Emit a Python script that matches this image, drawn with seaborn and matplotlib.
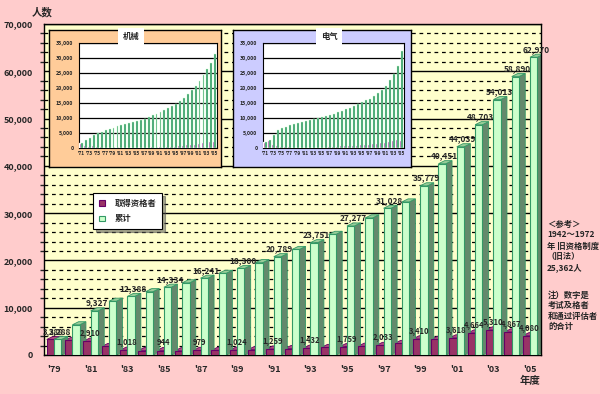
import matplotlib
matplotlib.use("Agg")
import matplotlib.pyplot as plt
import seaborn as sns
import pandas as pd
from matplotlib.patches import Polygon, Patch
from matplotlib.ticker import FuncFormatter, MultipleLocator

# ------------------------------
# data
# ------------------------------
years = list(range(1979, 2006))
year_labels = ["'%02d" % (y % 100) for y in years]
cumulative = [3288, 6390, 9327, 11370, 12388, 13390, 14334, 15262, 16241, 17276,
              18300, 19530, 20789, 22319, 23751, 25518, 27277, 28995, 31028, 32369,
              35779, 40451, 44039, 48703, 54013, 58890, 62970]
passed = [3288, 3100, 2910, 1800, 1018, 950, 944, 900, 979, 1000,
          1024, 1150, 1259, 1350, 1432, 1600, 1759, 1850, 2033, 2450,
          3410, 3300, 3618, 4664, 5310, 4867, 4080]
cum_label_years = [1979, 1981, 1983, 1985, 1987, 1989, 1991, 1993, 1995, 1997,
                   1999, 2000, 2001, 2002, 2003, 2004, 2005]
pass_label_years = [1979, 1981, 1983, 1985, 1987, 1989, 1991, 1993, 1995, 1997,
                    1999, 2001, 2002, 2003, 2004, 2005]
series_names = ["取得资格者", "累计"]

# inset panels (1971-2005)
inset_years = list(range(1971, 2006))
inset_labels = ["'%02d" % (y % 100) for y in inset_years]
inset1_title = "机械"
inset1_cum = [1800, 2700, 3300, 4200, 4900, 5500, 6000, 6400, 6800, 7200,
              7600, 7900, 8200, 8600, 9000, 9400, 9800, 10300, 10900, 11400,
              12000, 12600, 13300, 14000, 14800, 15700, 16700, 17900, 19300, 20800,
              22400, 24300, 26300, 28500, 31500]
inset1_pass = [1800, 900, 600, 900, 700, 600, 500, 400, 400, 400,
               400, 300, 300, 400, 400, 400, 400, 500, 600, 500,
               600, 600, 700, 700, 800, 900, 1000, 1200, 1400, 1500,
               1600, 1900, 2000, 2200, 2400]
inset2_title = "电气"
inset2_cum = [2000, 2600, 4200, 6000, 6600, 7100, 7600, 8000, 8300, 8600,
              8900, 9300, 9800, 10100, 10400, 10700, 11100, 11500, 12000, 12500,
              13000, 13500, 14000, 14600, 15300, 15900, 16500, 17400, 18300, 19300,
              20700, 22600, 24800, 27400, 32300]
inset2_pass = [2000, 2700, 1500, 1000, 800, 600, 600, 500, 500, 500,
               500, 500, 500, 400, 500, 500, 600, 700, 800, 900,
               900, 1000, 1000, 1100, 1200, 1300, 1400, 1600, 1800, 2000,
               2100, 2400, 2600, 3000, 2600]

note_ref = ["＜参考＞", "1942～1972", "年 旧资格制度", "（旧法）", "25,362人"]
note_text = ["注）数字是", "考试及格者", "和通过评估者", "的合计"]

# ------------------------------
# style
# ------------------------------
sns.set_style("white")
plt.rcParams['font.family'] = ['Noto Sans CJK SC', 'DejaVu Sans']
plt.rcParams['font.weight'] = 'bold'

PINK = "#FFCCCC"
WALL = "#FFFFCC"
PURPLE, PURPLE_EDGE, PURPLE_TOP = "#993366", "#660066", "#B04C80"
GREEN, GREEN_EDGE, GREEN_SIDE, GREEN_TOP = "#CCFFCC", "#339966", "#64896C", "#99CC99"

fig = plt.figure(figsize=(6.0, 3.94), dpi=100, facecolor=PINK)
ax = fig.add_axes([44 / 600, 1 - 355 / 394, 497 / 600, 331 / 394])
ax.set_facecolor(WALL)

df = pd.DataFrame({
    "year": year_labels * 2,
    "series": [series_names[0]] * len(years) + [series_names[1]] * len(years),
    "value": passed + cumulative,
})
sns.barplot(data=df, x="year", y="value", hue="series", hue_order=series_names,
            palette=[PURPLE, GREEN], width=0.8, saturation=1, legend=False,
            ax=ax, zorder=3)

# ------------------------------
# fake 3D sides / tops
# ------------------------------
dx, dy = 0.34, 650
styles = [(PURPLE_EDGE, PURPLE_TOP, PURPLE_TOP), (GREEN_EDGE, GREEN_SIDE, GREEN_TOP)]
for cont, (edge, side_c, top_c) in zip(ax.containers, styles):
    for bar in cont:
        bar.set_edgecolor(edge)
        bar.set_linewidth(0.8)
        x0, w, h = bar.get_x(), bar.get_width(), bar.get_height()
        x1 = x0 + w
        side = Polygon([(x1, 0), (x1, h), (x1 + dx, h + dy), (x1 + dx, dy)],
                       closed=True, facecolor=side_c, edgecolor=edge, lw=0.6, zorder=2)
        top = Polygon([(x0, h), (x1, h), (x1 + dx, h + dy), (x0 + dx, h + dy)],
                      closed=True, facecolor=top_c, edgecolor=edge, lw=0.6, zorder=2)
        ax.add_patch(side)
        ax.add_patch(top)

# data labels
for i, y in enumerate(years):
    pbar = ax.containers[0][i]
    gbar = ax.containers[1][i]
    if y in pass_label_years:
        ax.text(pbar.get_x() + pbar.get_width() * 0.9, passed[i] + dy + 150,
                f"{passed[i]:,}", ha="center", va="bottom", fontsize=5.5,
                fontweight="bold", zorder=5)
    if y in cum_label_years:
        ax.text(gbar.get_x() + gbar.get_width() * 0.8, cumulative[i] + dy + 100,
                f"{cumulative[i]:,}", ha="center", va="bottom", fontsize=6,
                fontweight="bold", zorder=5)

# axes, grid
ax.set_ylim(0, 70000)
ax.set_xlim(-0.55, 26.6)
ax.yaxis.set_major_locator(MultipleLocator(10000))
ax.yaxis.set_minor_locator(MultipleLocator(2000))
ax.yaxis.set_major_formatter(FuncFormatter(lambda v, p: f"{int(v):,}"))
ax.grid(axis="y", which="major", color="black", lw=1.0, zorder=0)
ax.grid(axis="y", which="minor", color="black", lw=0.9, ls=(0, (3, 3)), zorder=0)
ax.set_axisbelow(True)
ax.tick_params(axis="y", which="major", length=4, width=1, direction="out",
               labelsize=6.5, pad=4)
ax.tick_params(axis="y", which="minor", length=3, width=1, direction="out", left=True)
ax.set_xticks(range(0, len(years), 2))
ax.set_xticklabels(year_labels[::2], fontsize=6.5, fontweight="bold")
ax.tick_params(axis="x", length=0, pad=7)
for lab in ax.get_yticklabels():
    lab.set_fontweight("bold")
for s in ax.spines.values():
    s.set_color("black")
    s.set_linewidth(1.0)
ax.set_xlabel("")
ax.set_ylabel("")

fig.text(42 / 600, 1 - 12 / 394, "人数", ha="center", va="center", fontsize=7.5, fontweight="bold")
fig.text(530 / 600, 1 - 381 / 394, "年度", ha="center", va="center", fontsize=7.5, fontweight="bold")

# legend
handles = [Patch(facecolor=PURPLE, edgecolor=PURPLE_EDGE, lw=0.8),
           Patch(facecolor=GREEN, edgecolor=GREEN_EDGE, lw=0.8)]
leg = ax.legend(handles, series_names, loc="upper left",
                bbox_to_anchor=(93 / 600, 1 - 193 / 394), bbox_transform=fig.transFigure,
                frameon=True, fancybox=False, shadow=True, fontsize=6,
                handlelength=0.7, handleheight=0.7, borderpad=0.7, labelspacing=0.8,
                handletextpad=1.2, borderaxespad=0)
leg.get_frame().set_edgecolor("black")
leg.get_frame().set_linewidth(0.8)
leg.set_zorder(10)

# right side notes
for k, t in enumerate(note_ref):
    fig.text(547 / 600, 1 - (224 + 11 * k) / 394, t, ha="left", va="center",
             fontsize=6, fontweight="bold")
for k, t in enumerate(note_text):
    fig.text(548 / 600, 1 - (295 + 10.5 * k) / 394, t, ha="left", va="center",
             fontsize=6, fontweight="bold")

# ------------------------------
# inset panels
# ------------------------------
def draw_inset(panel_rect, plot_rect, title, title_x, bg, cum, pas):
    panel = fig.add_axes(panel_rect, zorder=5)
    panel.set_facecolor(bg)
    panel.set_xticks([])
    panel.set_yticks([])
    for s in panel.spines.values():
        s.set_color("black")
        s.set_linewidth(1.0)
    iax = fig.add_axes(plot_rect, zorder=6)
    iax.set_facecolor("white")
    idf = pd.DataFrame({
        "year": inset_labels * 2,
        "series": [series_names[0]] * len(inset_years) + [series_names[1]] * len(inset_years),
        "value": pas + cum,
    })
    sns.barplot(data=idf, x="year", y="value", hue="series", hue_order=series_names,
                palette=["#990099", "#339966"], width=0.95, saturation=1,
                legend=False, ax=iax, zorder=3)
    for bar in iax.containers[1]:
        bar.set_edgecolor("#CCFFCC")
        bar.set_linewidth(0.3)
    iax.set_ylim(0, 35000)
    iax.set_xlim(-0.6, len(inset_years) - 0.3)
    iax.yaxis.set_major_locator(MultipleLocator(5000))
    iax.yaxis.set_major_formatter(FuncFormatter(lambda v, p: f"{int(v):,}"))
    iax.grid(axis="y", color="black", lw=0.9, zorder=0)
    iax.set_axisbelow(True)
    iax.tick_params(axis="y", length=0, labelsize=3.8, pad=4)
    iax.set_xticks(range(0, len(inset_years), 2))
    iax.set_xticklabels(inset_labels[::2], fontsize=3.5)
    iax.tick_params(axis="x", length=0, pad=2)
    iax.set_xlabel("")
    iax.set_ylabel("")
    for s in iax.spines.values():
        s.set_color("black")
        s.set_linewidth(0.8)
    fig.text(title_x / 600, 1 - 37 / 394, title, ha="center", va="center",
             fontsize=6, fontweight="bold", zorder=7,
             bbox=dict(facecolor="white", edgecolor="none", boxstyle="square,pad=0.5"))

draw_inset([49 / 600, 1 - 167 / 394, 172 / 600, 137 / 394],
           [79 / 600, 1 - 148 / 394, 138 / 600, 105 / 394],
           inset1_title, 131, "#FFCC99", inset1_cum, inset1_pass)
draw_inset([233 / 600, 1 - 167 / 394, 178 / 600, 137 / 394],
           [263 / 600, 1 - 148 / 394, 141 / 600, 105 / 394],
           inset2_title, 329, "#CCCCFF", inset2_cum, inset2_pass)

fig.savefig("out.png", dpi=100, facecolor=PINK)
